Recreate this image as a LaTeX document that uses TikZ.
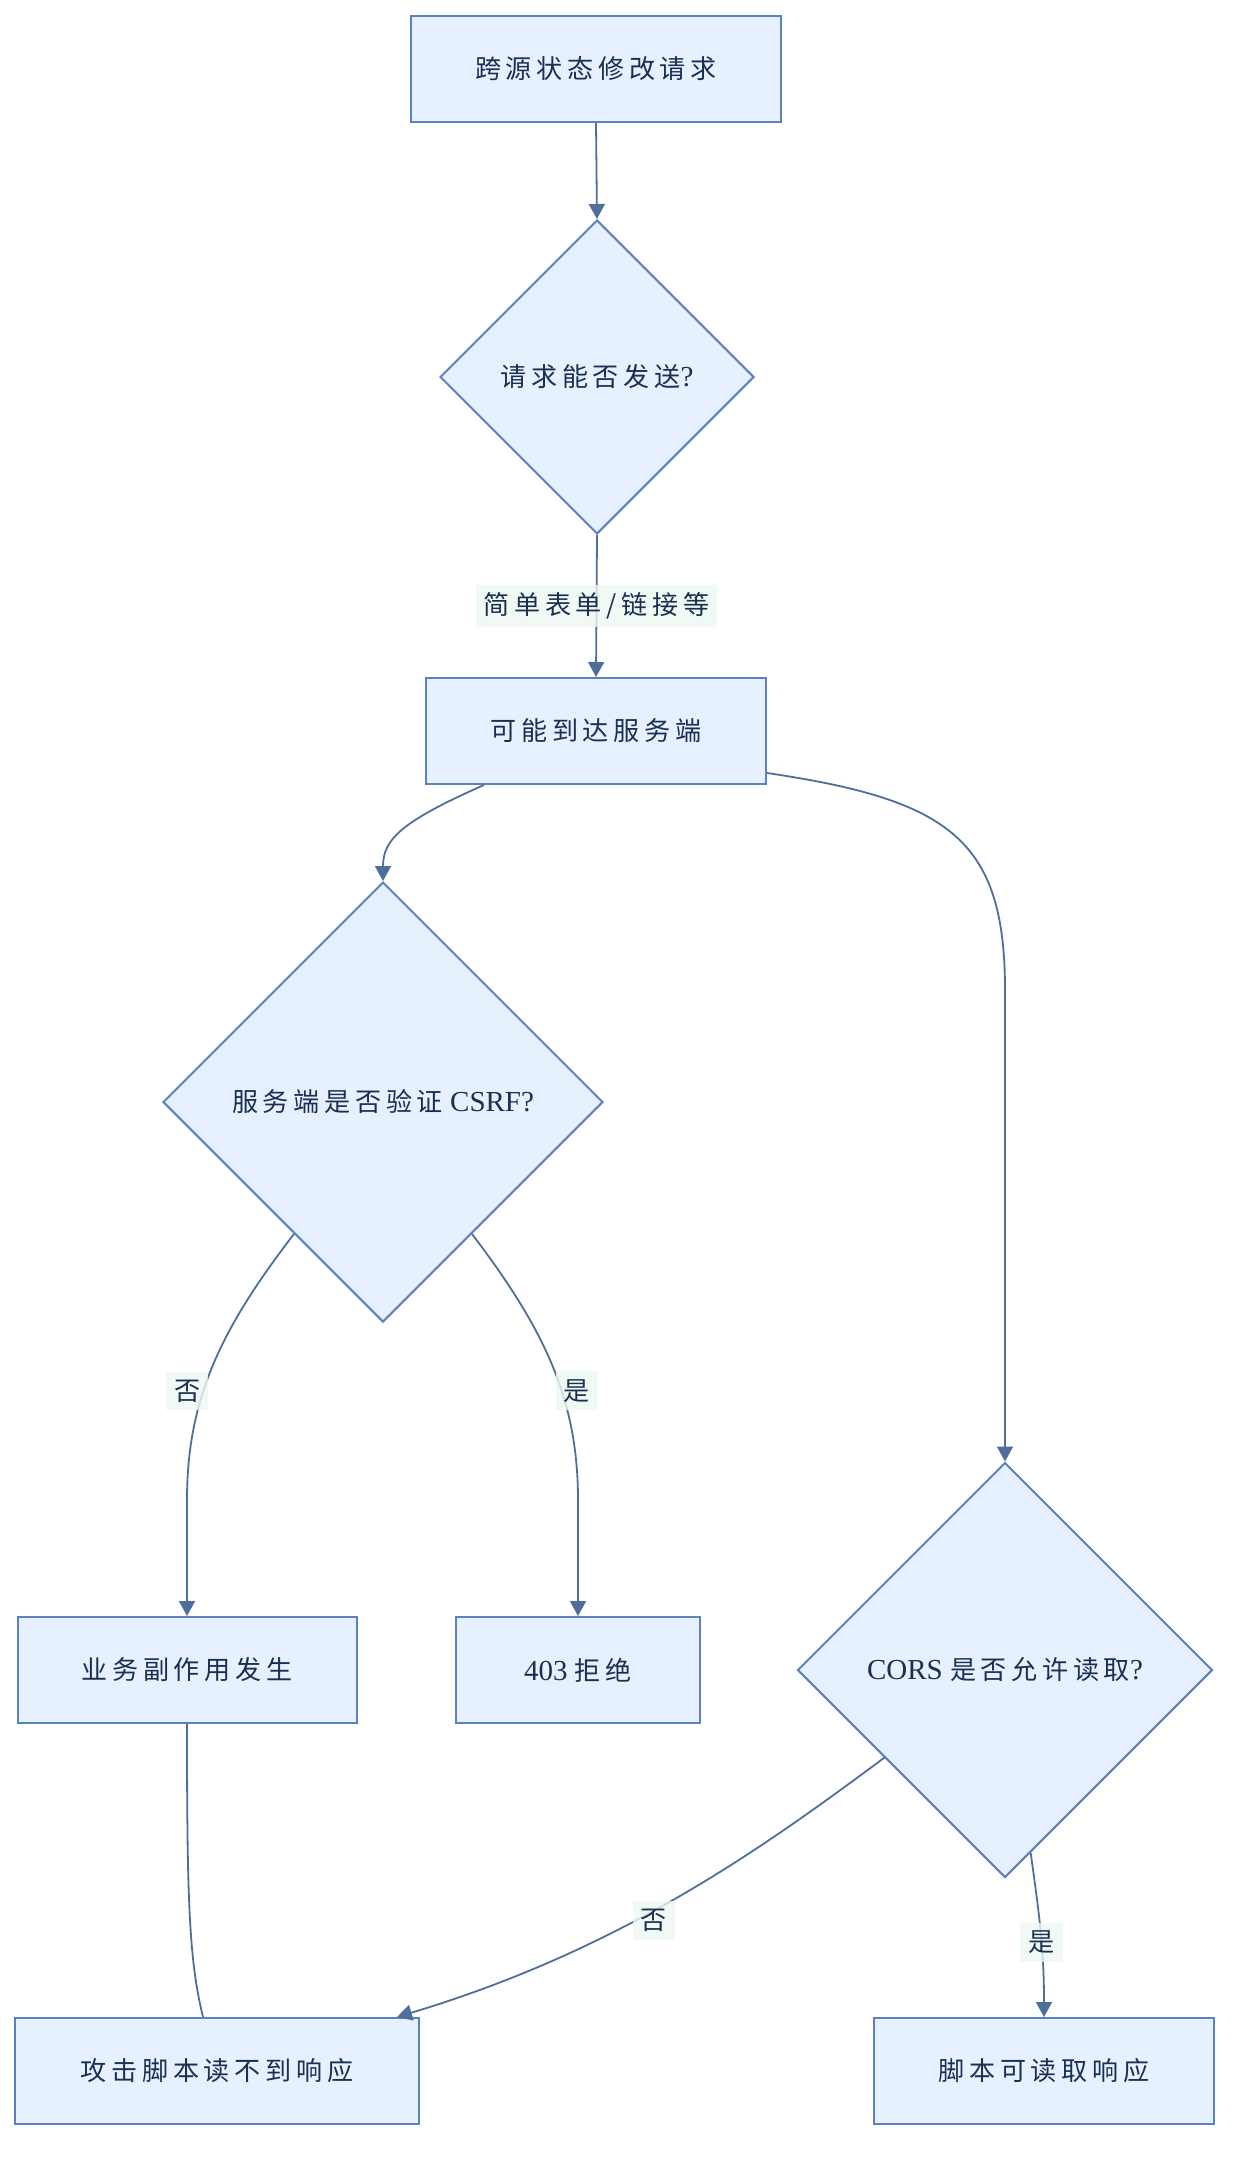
\documentclass[tikz,border=0pt]{standalone}
\usepackage{fontspec}
\setmainfont{Liberation Serif}
\newfontfamily\cjk[Scale=0.9,LetterSpace=18]{Noto Sans CJK SC}
\usetikzlibrary{shapes.geometric,arrows.meta}

\definecolor{boxfill}{HTML}{E7F0FE}
\definecolor{boxline}{HTML}{5A82BE}
\definecolor{wireblue}{HTML}{4F6E9C}
\definecolor{inkblue}{HTML}{1A2F52}
\definecolor{tagfill}{HTML}{EEF8F3}

\tikzset{
    stepbox/.style={draw=boxline,fill=boxfill,line width=2pt,minimum height=106pt,text=inkblue,inner sep=0pt},
    choice/.style={diamond,draw=boxline,fill=boxfill,line width=2pt,inner sep=0pt,text=inkblue},
    plainline/.style={draw=wireblue,line width=1.8pt},
    arrowline/.style={plainline,-{Triangle[width=16pt,length=15pt]}},
    edgelabel/.style={fill=tagfill,fill opacity=0.8,text opacity=1,text=inkblue,inner sep=8pt}
}

\begin{document}
\begin{tikzpicture}[x=1pt,y=-1pt,font=\fontsize{29}{34}\selectfont]
        \useasboundingbox (0,0) rectangle (1246,2168);

        \node[stepbox,minimum width=370pt] (req) at (596,69) {\cjk 跨源状态修改请求};
        \node[choice,minimum width=314pt,minimum height=314pt] (send) at (597,377) {{\cjk 请求能否发送}?};
        \node[stepbox,minimum width=340pt] (reach) at (596,731) {\cjk 可能到达服务端};
        \node[choice,minimum width=440pt,minimum height=440pt] (csrf) at (383,1102) {{\cjk 服务端是否验证} CSRF?};
        \node[stepbox,minimum width=339pt] (side) at (187,1670) {\cjk 业务副作用发生};
        \node[stepbox,minimum width=244pt] (deny) at (578,1670) {403 {\cjk 拒绝}};
        \node[choice,minimum width=415pt,minimum height=415pt] (cors) at (1005,1670) {CORS {\cjk 是否允许读取}?};
        \node[stepbox,minimum width=404pt] (blind) at (217,2071) {\cjk 攻击脚本读不到响应};
        \node[stepbox,minimum width=340pt] (readok) at (1044,2071) {\cjk 脚本可读取响应};

        \draw[arrowline] (req.south) -- (send.north);
        \draw[arrowline] (send.south) -- node[edgelabel] {\cjk 简单表单/链接等} (reach.north);

        \draw[arrowline] ([xshift=-112pt]reach.south) .. controls (400,822) and (383,840) .. (csrf.north);
        \draw[arrowline] ([yshift=-42pt]reach.east) .. controls (950,800) and (1005,840) .. (1005,990) -- (cors.north);

        \draw[arrowline] (csrf.236) .. controls (220,1330) and (187,1400) .. node[edgelabel,pos=0.6,xshift=-16pt] {\cjk 否} (187,1500) -- (side.north);
        \draw[arrowline] (csrf.304) .. controls (545,1330) and (578,1400) .. node[edgelabel,pos=0.6,xshift=15pt] {\cjk 是} (578,1500) -- (deny.north);

        \draw[plainline] (side.south) .. controls (187,1900) and (189,1960) .. ([xshift=-14pt]blind.north);
        \draw[arrowline] (cors.216) .. controls (760,1850) and (620,1950) .. node[edgelabel,pos=0.55,yshift=-10pt] {\cjk 否} ([xshift=180pt]blind.north);
        \draw[arrowline] (cors.278) .. controls (1040,1920) and (1044,1950) .. node[edgelabel,pos=0.55] {\cjk 是} (readok.north);
\end{tikzpicture}
\end{document}
